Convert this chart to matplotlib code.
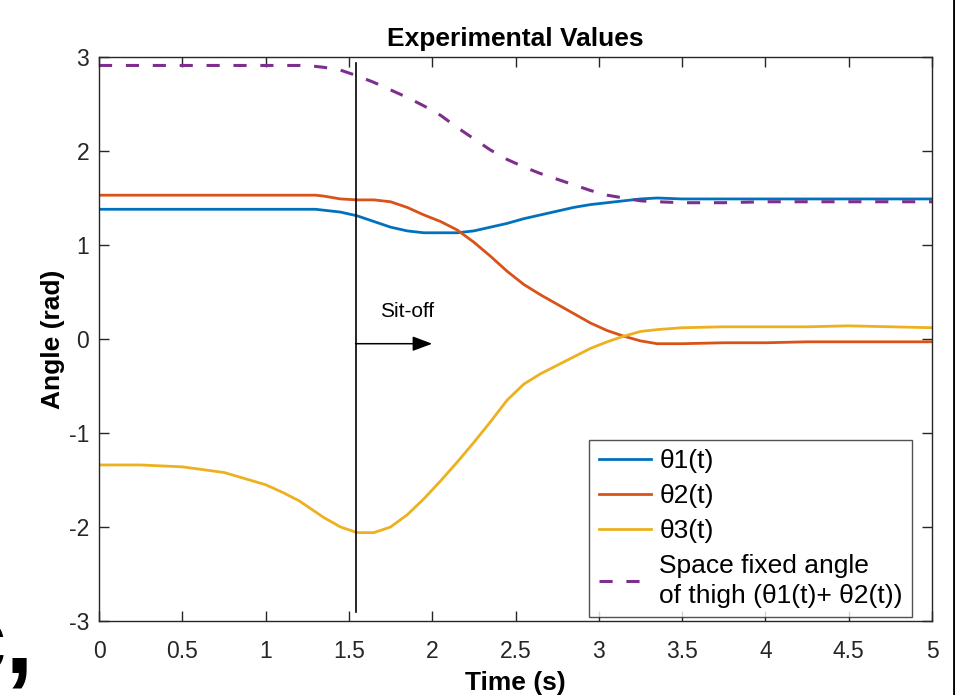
import matplotlib
matplotlib.use("Agg")
import matplotlib.pyplot as plt
from matplotlib.lines import Line2D

plt.rcParams['font.family'] = ['Liberation Sans', 'DejaVu Sans']

t = [0, 0.25, 0.5, 0.75, 1.0, 1.1, 1.2, 1.3, 1.35, 1.45, 1.55, 1.65, 1.75, 1.85, 1.95,
     2.05, 2.15, 2.25, 2.35, 2.45, 2.55, 2.65, 2.75, 2.85, 2.95, 3.05, 3.15,
     3.25, 3.35, 3.5, 3.75, 4.0, 4.25, 4.5, 4.75, 5.0]

theta1 = [1.38, 1.38, 1.38, 1.38, 1.38, 1.38, 1.38, 1.38, 1.37, 1.35, 1.31, 1.25, 1.19, 1.15, 1.13,
          1.13, 1.13, 1.15, 1.19, 1.23, 1.28, 1.32, 1.36, 1.40, 1.43, 1.45, 1.47,
          1.49, 1.50, 1.49, 1.49, 1.49, 1.49, 1.49, 1.49, 1.49]

theta2 = [1.53, 1.53, 1.53, 1.53, 1.53, 1.53, 1.53, 1.53, 1.52, 1.49, 1.48, 1.48, 1.46, 1.40, 1.32,
          1.25, 1.16, 1.03, 0.88, 0.72, 0.58, 0.47, 0.37, 0.27, 0.17, 0.09, 0.03,
          -0.02, -0.05, -0.05, -0.04, -0.04, -0.03, -0.03, -0.03, -0.03]

theta3 = [-1.34, -1.34, -1.36, -1.42, -1.55, -1.63, -1.72, -1.84, -1.90, -2.00, -2.06, -2.06, -2.00, -1.87, -1.70,
          -1.51, -1.31, -1.10, -0.88, -0.65, -0.48, -0.37, -0.28, -0.19, -0.10, -0.03, 0.03,
          0.08, 0.10, 0.12, 0.13, 0.13, 0.13, 0.14, 0.13, 0.12]

thigh = [2.91, 2.91, 2.91, 2.91, 2.91, 2.91, 2.91, 2.90, 2.89, 2.86, 2.80, 2.73, 2.65, 2.57, 2.48,
         2.38, 2.25, 2.13, 2.01, 1.91, 1.83, 1.76, 1.70, 1.64, 1.58, 1.53, 1.50,
         1.47, 1.46, 1.45, 1.45, 1.46, 1.46, 1.46, 1.46, 1.46]

labels = ['θ1(t)', 'θ2(t)', 'θ3(t)', 'Space fixed angle\nof thigh (θ1(t)+ θ2(t))']
colors = ['#0072BD', '#D95319', '#EDB120', '#7E2F8E']

sitoff_t = 1.54
xticks = [0, 0.5, 1, 1.5, 2, 2.5, 3, 3.5, 4, 4.5, 5]
xticklabels = ['0', '0.5', '1', '1.5', '2', '2.5', '3', '3.5', '4', '4.5', '5']
yticks = [-3, -2, -1, 0, 1, 2, 3]
yticklabels = ['-3', '-2', '-1', '0', '1', '2', '3']

fig = plt.figure(figsize=(9.55, 6.95), dpi=100)
ax = fig.add_axes([99/955, 74/695, 833/955, 564/695])

lw = 2.0
ax.plot(t, theta1, color=colors[0], lw=lw, label=labels[0])
ax.plot(t, theta2, color=colors[1], lw=lw, label=labels[1])
ax.plot(t, theta3, color=colors[2], lw=lw, label=labels[2])
ax.plot(t, thigh, color=colors[3], lw=2.2, dashes=(4.3, 4.5), label=labels[3])

ax.plot([sitoff_t, sitoff_t], [2.94, -2.9], color='black', lw=1.2)
ax.annotate('', xy=(2.0, -0.05), xytext=(sitoff_t, -0.05),
            arrowprops=dict(arrowstyle='-|>,head_length=1.2,head_width=0.45',
                            color='black', lw=1.1, shrinkA=0, shrinkB=0))
ax.text(1.85, 0.19, 'Sit-off', ha='center', va='bottom', fontsize=15)

ax.set_xlim(0, 5)
ax.set_ylim(-3, 3)
ax.set_xticks(xticks)
ax.set_xticklabels(xticklabels)
ax.set_yticks(yticks)
ax.set_yticklabels(yticklabels)
ax.tick_params(direction='in', length=7, width=1, top=True, right=True,
               labelsize=16.5, colors='#262626', labelcolor='#262626')
ax.tick_params(axis='x', pad=13.5)
ax.tick_params(axis='y', pad=7)
for s in ax.spines.values():
    s.set_color('#262626')
    s.set_linewidth(1.0)

ax.set_title('Experimental Values', fontsize=19, fontweight='bold', pad=8)
ax.set_xlabel('Time (s)', fontsize=19, fontweight='bold', labelpad=6)
ax.set_ylabel('Angle (rad)', fontsize=19, fontweight='bold', labelpad=3)

leg = ax.legend(loc='lower right', bbox_to_anchor=((912-99)/833, 4/564),
                borderaxespad=0, fontsize=19, frameon=True, fancybox=False,
                edgecolor='#262626', handlelength=2.0, handletextpad=0.3,
                labelspacing=0.42, borderpad=0.35)
leg.get_texts()[3].set_linespacing(1.3)
leg.get_frame().set_linewidth(1.0)

fig.text(33/955, (695-672)/695, 'c,', ha='right', va='baseline',
         fontsize=72, fontweight='bold', color='black')
fig.add_artist(Line2D([953.5/955, 953.5/955], [0, 1], color='black', lw=2,
                      transform=fig.transFigure))

fig.savefig('out.png', dpi=100)
